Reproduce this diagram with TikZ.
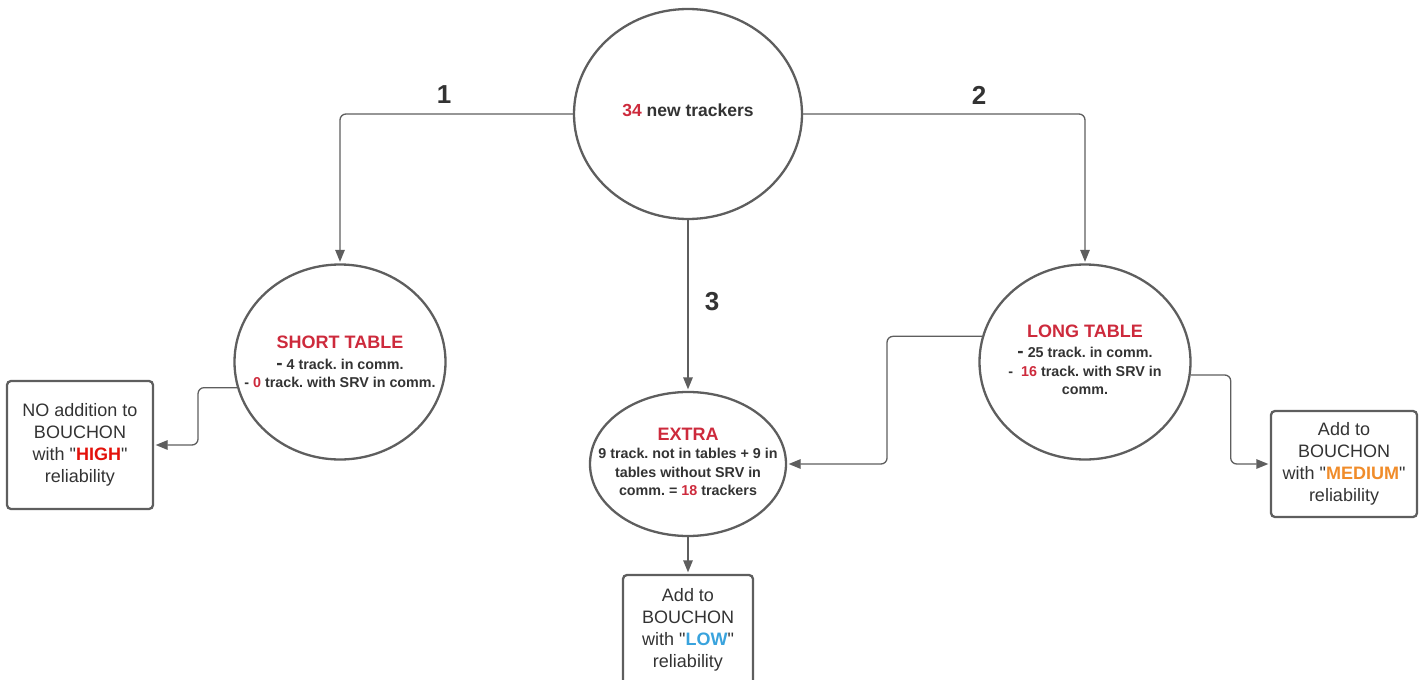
\documentclass[tikz,border=0pt]{standalone}
\usepackage{fontspec}
\setmainfont{Liberation Sans}
\usepackage{xcolor}
\usepackage{tikz}
\usetikzlibrary{positioning}
\usetikzlibrary{arrows.meta, shapes.geometric, calc}
\definecolor{linegray}{HTML}{5E5E5E}
\definecolor{textdark}{HTML}{333333}
\definecolor{titlered}{HTML}{CD2A3C}
\definecolor{highred}{HTML}{E3120B}
\definecolor{medorange}{HTML}{F08C2A}
\definecolor{lowblue}{HTML}{39A3DD}
\frenchspacing

\tikzset{
    bubble/.style={ellipse, draw=linegray, line width=2.3pt, inner sep=0pt},
    bubbletext/.style={align=center, inner sep=0pt, text=textdark,
        font=\bfseries\fontsize{14.3}{18.5}\selectfont},
    outcome/.style={rectangle, rounded corners=4pt, draw=linegray, line width=2.3pt, inner sep=0pt,
        align=center, text=textdark, font=\fontsize{18}{22}\selectfont},
    flow/.style={draw=linegray, line width=1.3pt, rounded corners=6pt, shorten >=1.5pt,
        -{Triangle[length=12pt,width=9.5pt]}},
    steplabel/.style={text=textdark, font=\bfseries\fontsize{26}{30}\selectfont}
}

\newcommand{\bubtitle}[1]{{\fontsize{18}{22}\selectfont\textcolor{titlered}{#1}}}
\newcommand{\bigdash}{{\fontsize{19}{18}\selectfont -}}
\newcommand{\hl}[2]{\textcolor{#1}{\textbf{#2}}}

\begin{document}
\begin{tikzpicture}[x=1pt, y=-1pt]
        \useasboundingbox (0,0) rectangle (1419,680);

        % the circles
        \node[bubble, minimum width=228pt, minimum height=210pt] (start) at (688,114) {};
        \node[bubble, minimum width=211pt, minimum height=195pt] (short) at (340,362) {};
        \node[bubble, minimum width=211pt, minimum height=195pt] (long) at (1085,362) {};
        \node[bubble, minimum width=196pt, minimum height=144pt] (extra) at (688,464) {};

        \node[bubbletext] (starttext) at (688,110)
            {\fontsize{17.5}{20}\selectfont\textcolor{titlered}{34} new trackers};
        \node[bubbletext] (shorttext) at (340,362)
            {\bubtitle{SHORT TABLE}\\[2pt] \bigdash\ 4 track. in comm.\\ - \textcolor{titlered}{0} track. with SRV in comm.};
        \node[bubbletext] (longtext) at (1085,360)
            {\bubtitle{LONG TABLE}\\[2pt] \bigdash\ 25 track. in comm.\\ -\ \ \textcolor{titlered}{16} track. with SRV in\\ comm.};
        \node[bubbletext] (extratext) at (688,462)
            {\bubtitle{EXTRA}\\ 9 track. not in tables + 9 in\\ tables without SRV in\\ comm. = \textcolor{titlered}{18} trackers};

        % the outcomes
        \node[outcome, minimum width=146pt, minimum height=128pt] (noadd) at (80,445)
            {NO addition to\\ BOUCHON\\ with \textquotedbl\hl{highred}{HIGH}\textquotedbl\\ reliability};
        \node[outcome, minimum width=146pt, minimum height=106pt] (addmed) at (1344,464)
            {Add to\\ BOUCHON\\ with \textquotedbl\hl{medorange}{MEDIUM}\textquotedbl\\ reliability};
        \node[outcome, minimum width=130pt, minimum height=110pt] (addlow) at (688,630)
            {Add to\\ BOUCHON\\ with \textquotedbl\hl{lowblue}{LOW}\textquotedbl\\ reliability};

        % connectors
        \draw[flow] (start.west) -| (short.north);
        \draw[flow] (start.east) -| (long.north);
        \draw[flow] (start.south) -- (extra.north);
        \draw[flow] (short.194) -- ++(-39,0) |- (noadd.east);
        \draw[flow] (long.166) -- ++(-95,0) |- (extra.east);
        \draw[flow] (long.353) -- ++(40,0) |- (addmed.west);
        \draw[flow] (extra.south) -- (addlow.north);

        \node[steplabel] (one) at (444,95) {1};
        \node[steplabel] (two) at (979,95) {2};
        \node[steplabel] (three) at (712,302) {3};
    \end{tikzpicture}
\end{document}
